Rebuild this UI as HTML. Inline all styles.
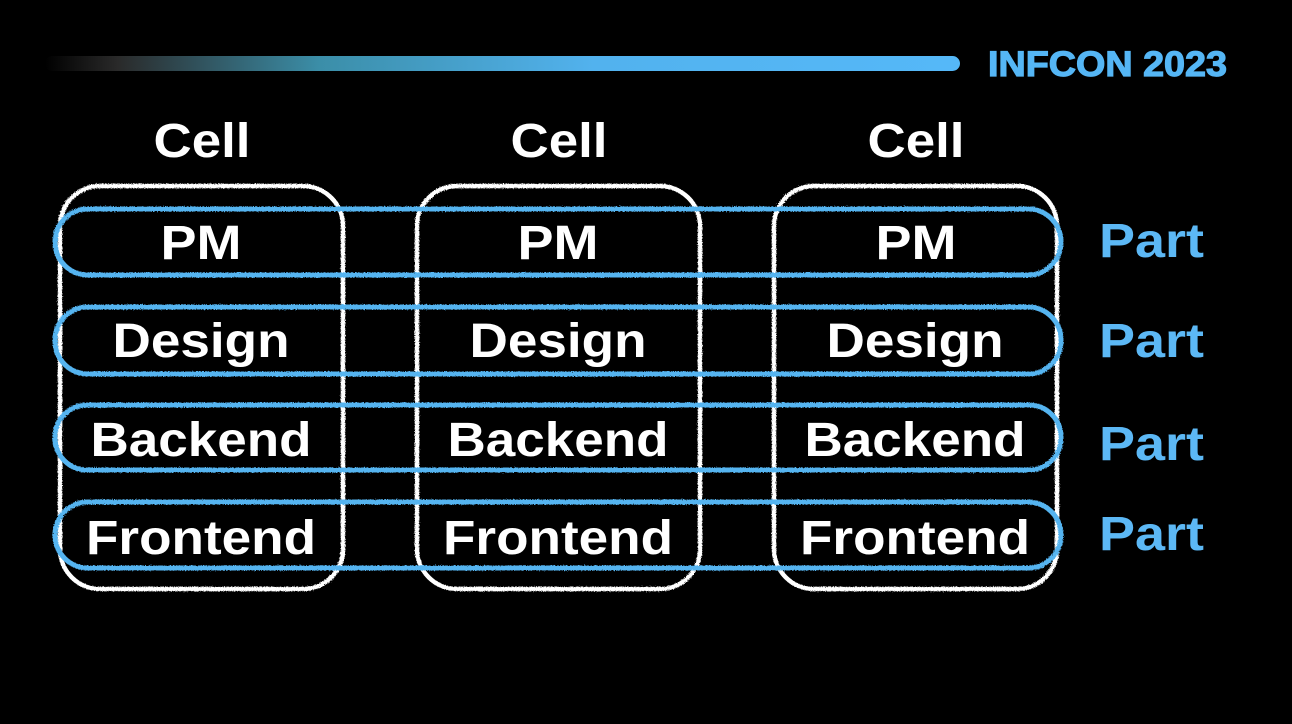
<!DOCTYPE html>
<html><head><meta charset="utf-8"><style>
html,body{margin:0;padding:0;background:#000;width:1292px;height:724px;overflow:hidden}
svg{display:block}
text{font-family:"Liberation Sans",sans-serif;font-weight:bold}
</style></head><body>
<svg width="1292" height="724" viewBox="0 0 1292 724">
<defs>
<linearGradient id="g" x1="45" x2="960" gradientUnits="userSpaceOnUse">
<stop offset="0" stop-color="#000"/>
<stop offset="0.08" stop-color="#2a2a2a"/>
<stop offset="0.3" stop-color="#3b8ea8"/>
<stop offset="0.6" stop-color="#52b2ee"/>
<stop offset="1" stop-color="#55b8f8"/>
</linearGradient>
<filter id="r"><feTurbulence type="fractalNoise" baseFrequency="0.9" numOctaves="2" result="n"/><feDisplacementMap in="SourceGraphic" in2="n" scale="3"/></filter>
</defs>
<rect x="0" y="0" width="1292" height="724" fill="#000"/>
<rect x="45" y="56" width="915" height="15" rx="7.5" fill="url(#g)"/>
<text x="988" y="76" font-size="35" fill="#55b6f5" stroke="#55b6f5" stroke-width="1.2" textLength="239" lengthAdjust="spacingAndGlyphs">INFCON 2023</text>

<g fill="#fff" font-size="48" text-anchor="middle">
<text x="202" y="157" textLength="97" lengthAdjust="spacingAndGlyphs">Cell</text>
<text x="559" y="157" textLength="97" lengthAdjust="spacingAndGlyphs">Cell</text>
<text x="916" y="157" textLength="97" lengthAdjust="spacingAndGlyphs">Cell</text>
</g>

<g fill="none" stroke="#fff" stroke-width="4.5" filter="url(#r)">
<rect x="60" y="186" width="283" height="403" rx="40"/>
<rect x="417" y="186" width="283" height="403" rx="40"/>
<rect x="774" y="186" width="283" height="403" rx="40"/>
</g>
<g fill="none" stroke="#55b4f0" stroke-width="5" filter="url(#r)">
<rect x="55" y="209" width="1006" height="66" rx="33"/>
<rect x="55" y="307" width="1006" height="67" rx="33"/>
<rect x="55" y="405" width="1006" height="65" rx="32"/>
<rect x="55" y="502" width="1006" height="66" rx="33"/>
</g>

<g fill="#fff" font-size="48" text-anchor="middle">
<text x="201" y="259" textLength="81" lengthAdjust="spacingAndGlyphs">PM</text>
<text x="558" y="259" textLength="81" lengthAdjust="spacingAndGlyphs">PM</text>
<text x="916" y="259" textLength="81" lengthAdjust="spacingAndGlyphs">PM</text>
<text x="201" y="357" textLength="177" lengthAdjust="spacingAndGlyphs">Design</text>
<text x="558" y="357" textLength="177" lengthAdjust="spacingAndGlyphs">Design</text>
<text x="915" y="357" textLength="177" lengthAdjust="spacingAndGlyphs">Design</text>
<text x="201" y="456" textLength="221" lengthAdjust="spacingAndGlyphs">Backend</text>
<text x="558" y="456" textLength="221" lengthAdjust="spacingAndGlyphs">Backend</text>
<text x="915" y="456" textLength="221" lengthAdjust="spacingAndGlyphs">Backend</text>
<text x="201" y="554" textLength="230" lengthAdjust="spacingAndGlyphs">Frontend</text>
<text x="558" y="554" textLength="230" lengthAdjust="spacingAndGlyphs">Frontend</text>
<text x="915" y="554" textLength="230" lengthAdjust="spacingAndGlyphs">Frontend</text>
</g>
<g fill="#5cb8f5" font-size="48">
<text x="1099" y="257" textLength="105" lengthAdjust="spacingAndGlyphs">Part</text>
<text x="1099" y="357" textLength="105" lengthAdjust="spacingAndGlyphs">Part</text>
<text x="1099" y="460" textLength="105" lengthAdjust="spacingAndGlyphs">Part</text>
<text x="1099" y="550" textLength="105" lengthAdjust="spacingAndGlyphs">Part</text>
</g>
</svg>
</body></html>
